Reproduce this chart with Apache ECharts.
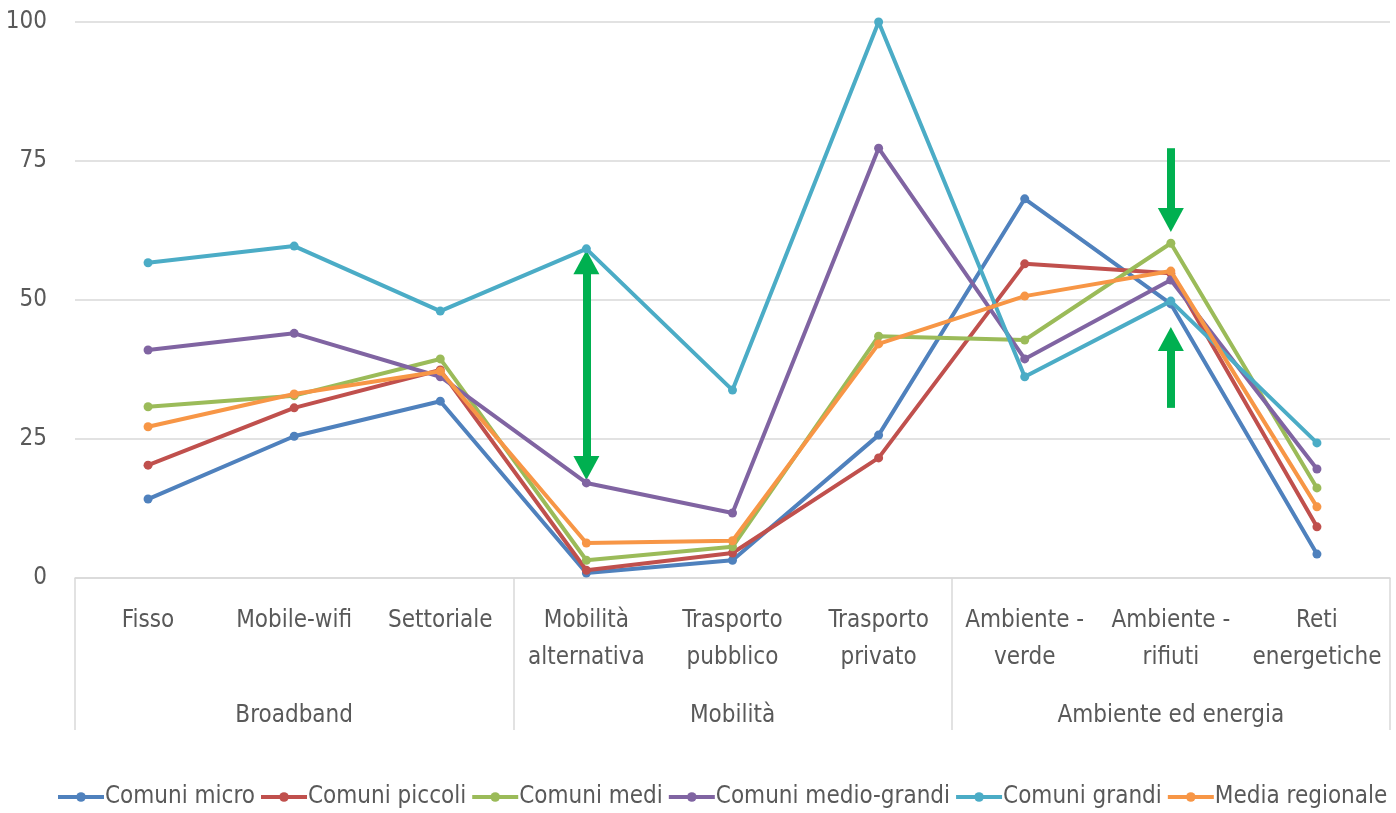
<!DOCTYPE html>
<html>
<head>
<meta charset="utf-8">
<script src="https://cdn.jsdelivr.net/npm/echarts@6/dist/echarts.min.js"></script>
<style>
html,body{margin:0;padding:0;background:#fff;}
#chart{width:1396px;height:813px;}
</style>
</head>
<body>
<div id="chart"></div>
<script>
const categories = ['Fisso','Mobile-wifi','Settoriale','Mobilità\nalternativa','Trasporto\npubblico','Trasporto\nprivato','Ambiente -\nverde','Ambiente -\nrifiuti','Reti\nenergetiche'];
const groups = ['Broadband','Mobilità','Ambiente ed energia'];
const yTicks = [0,25,50,75,100];

const seriesNames = ['Comuni micro','Comuni piccoli','Comuni medi','Comuni medio-grandi','Comuni grandi','Media regionale'];
const comuniMicro      = [14.2, 25.5, 31.8, 0.9, 3.2, 25.7, 68.2, 49.3, 4.3];
const comuniPiccoli    = [20.3, 30.6, 37.4, 1.4, 4.5, 21.6, 56.5, 54.8, 9.2];
const comuniMedi       = [30.8, 32.8, 39.4, 3.2, 5.6, 43.5, 42.8, 60.2, 16.2];
const comuniMedioGrandi= [41.0, 44.0, 36.2, 17.1, 11.7, 77.3, 39.4, 53.6, 19.6];
const comuniGrandi     = [56.7, 59.7, 48.0, 59.2, 33.8, 100, 36.2, 49.8, 24.3];
const mediaRegionale   = [27.2, 33.1, 37.2, 6.3, 6.7, 42.1, 50.7, 55.2, 12.8];

// annotation arrows: [category index, from value, to value]
const arrowDouble = [3, 56.8, 19.8];
const arrowDown   = [7, 77.3, 64.4];
const arrowUp     = [7, 30.6, 43.0];

const colors = ['#4F81BD','#C0504D','#9BBB59','#8064A2','#4BACC6','#F79646'];
const values = [comuniMicro, comuniPiccoli, comuniMedi, comuniMedioGrandi, comuniGrandi, mediaRegionale];

const FONT = "'Liberation Sans Narrow','Arial Narrow','DejaVu Sans Condensed',sans-serif";
const TXT = '#595959';
const GRID = '#d9d9d9';

const chart = echarts.init(document.getElementById('chart'));

const series = values.map((v,i)=>({
  name: seriesNames[i],
  type: 'line',
  data: v,
  xAxisIndex: 0,
  symbol: 'circle',
  symbolSize: 9,
  lineStyle: {width: 4, color: colors[i]},
  itemStyle: {color: colors[i]},
  z: 2 + i
}));

function arrowLine(a, symbols){
  return [{coord:[a[0], a[1]], symbol: symbols[0]}, {coord:[a[0], a[2]], symbol: symbols[1]}];
}
series.push({
  name: 'arrows',
  type: 'line',
  data: [],
  silent: true,
  markLine: {
    silent: true,
    animation: false,
    symbol: ['none','triangle'],
    symbolSize: [26, 24],
    label: {show: false},
    lineStyle: {color: '#00B050', width: 8, type: 'solid'},
    itemStyle: {color: '#00B050'},
    emphasis: {disabled: true},
    data: [
      arrowLine(arrowDouble, ['triangle','triangle']),
      arrowLine(arrowDown, ['none','triangle']),
      arrowLine(arrowUp, ['none','triangle'])
    ]
  },
  z: 20
});

chart.setOption({
  animation: false,
  color: colors,
  grid: {left: 75, right: 6, top: 22, bottom: 235},
  legend: {
    data: seriesNames,
    top: 785,
    left: 56,
    width: 1340,
    padding: 0,
    itemWidth: 46,
    itemHeight: 12,
    itemGap: 4,
    lineStyle: {width: 4},
    textStyle: {fontFamily: FONT, fontSize: 24, color: TXT, padding: [0,0,0,-4]}
  },
  xAxis: [
    {
      type: 'category',
      data: categories,
      boundaryGap: true,
      axisLine: {show: true, lineStyle: {color: GRID, width: 1.5}},
      axisTick: {show: false},
      axisLabel: {interval: 0, margin: 24, fontFamily: FONT, fontSize: 24, lineHeight: 37, color: TXT, align: 'center'}
    },
    {
      type: 'category',
      data: groups,
      position: 'bottom',
      boundaryGap: true,
      axisLine: {show: false},
      axisTick: {show: true, length: 152, lineStyle: {color: GRID, width: 1.5}},
      axisLabel: {interval: 0, margin: 126, fontFamily: FONT, fontSize: 24, color: TXT}
    }
  ],
  yAxis: {
    type: 'value',
    min: yTicks[0],
    max: yTicks[yTicks.length-1],
    interval: 25,
    axisLine: {show: false},
    axisTick: {show: false},
    splitLine: {lineStyle: {color: GRID, width: 1.5}},
    axisLabel: {margin: 28, fontFamily: FONT, fontSize: 24, color: TXT}
  },
  series: series
});
</script>
</body>
</html>
